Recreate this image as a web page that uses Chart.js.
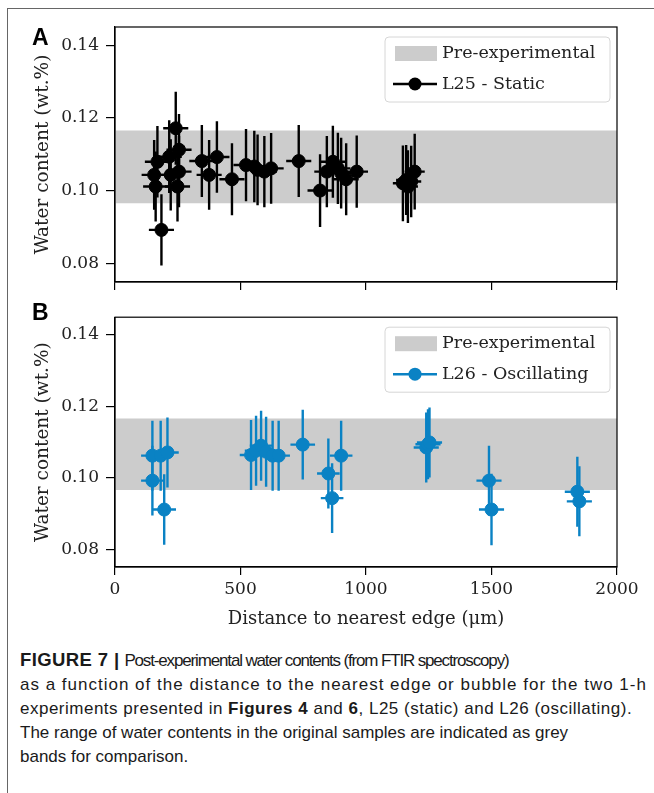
<!DOCTYPE html>
<html>
<head>
<meta charset="utf-8">
<script src="https://cdn.jsdelivr.net/npm/chart.js@4.4.1/dist/chart.umd.min.js"></script>
<style>
  body { margin: 0; background: #fff; width: 654px; height: 793px; overflow: hidden; position: relative; }
  #frame { position: absolute; left: 7px; top: 8px; width: 700px; height: 800px; border-left: 1px solid #666; border-top: 1px solid #666; }
  canvas { position: absolute; left: 0; }
  #chartA { top: 0; }
  #chartB { top: 300px; }
  .tag { position: absolute; left: 32px; font: bold 23px/23px "Liberation Sans", Arial, sans-serif; color: #000; }
  #caption { position: absolute; left: 20px; top: 648px; font: 17px/24px "Liberation Sans", Arial, sans-serif; color: #1a1a1a; white-space: nowrap; }
  #caption .fig { font-size: 18.5px; letter-spacing: 0.4px; }
  #caption .l1 { letter-spacing: -1.15px; }
  #caption .l2 { letter-spacing: 1px; }
  #caption .l3 { letter-spacing: 0.5px; }
</style>
</head>
<body>
<div id="frame"></div>
<canvas id="chartA" width="654" height="300"></canvas>
<canvas id="chartB" width="654" height="335"></canvas>
<div class="tag" style="top:26px">A</div>
<div class="tag" style="top:301px">B</div>
<div id="caption"><b class="fig">FIGURE 7 |</b> <span class="l1">Post-experimental water contents (from FTIR spectroscopy)</span><br><span class="l2">as a function of the distance to the nearest edge or bubble for the two 1-h</span><br><span class="l3">experiments presented in <b>Figures 4</b> and <b>6</b>, L25 (static) and L26 (oscillating).</span><br>The range of water contents in the original samples are indicated as grey<br>bands for comparison.</div>
<script>
// axis ticks
const xTicks = [0, 500, 1000, 1500, 2000]
const yTicks = [0.08, 0.10, 0.12, 0.14]

// pre-experimental range (grey band)
const bandLow = 0.0966
const bandHigh = 0.1166

// L25 - static
const staticX = [169, 156, 162, 185, 216, 222, 242, 255, 255, 249, 346, 406, 375, 466, 522, 555,
  568, 595, 622, 732, 817, 844, 868, 888, 901, 921, 963, 1147, 1160, 1167, 1180, 1194]
const staticY = [0.1080, 0.1044, 0.1012, 0.0893, 0.1094, 0.1044, 0.1172, 0.1113, 0.1053, 0.1012,
  0.1082, 0.1093, 0.1044, 0.1032, 0.1071, 0.1067, 0.1058, 0.1053, 0.1062, 0.1082, 0.1001, 0.1053,
  0.1080, 0.1062, 0.1049, 0.1032, 0.1053, 0.1021, 0.1030, 0.1012, 0.1026, 0.1053]
const staticXErr = [50, 50, 50, 50, 50, 50, 50, 50, 50, 50, 50, 50, 50, 50, 50, 50,
  50, 50, 50, 50, 50, 50, 50, 50, 50, 50, 45, 40, 40, 40, 40, 40]
const staticYErr = [0.0098, 0.0096, 0.0096, 0.0098, 0.0100, 0.0098, 0.0100, 0.0098, 0.0098, 0.0096,
  0.0099, 0.0098, 0.0096, 0.0099, 0.0099, 0.0098, 0.0097, 0.0098, 0.0097, 0.0099, 0.0100, 0.0098,
  0.0099, 0.0098, 0.0097, 0.0099, 0.0099, 0.0104, 0.0096, 0.0100, 0.0098, 0.0104]

// L26 - oscillating
const oscX = [149, 182, 209, 149, 196, 542, 562, 582, 602, 628, 652, 748, 850, 865, 901,
  1240, 1247, 1253, 1490, 1500, 1842, 1850]
const oscY = [0.1062, 0.1062, 0.1071, 0.0992, 0.0911, 0.1064, 0.1076, 0.1090, 0.1073, 0.1062, 0.1062,
  0.1093, 0.1012, 0.0943, 0.1062, 0.1085, 0.1094, 0.1099, 0.0992, 0.0911, 0.0961, 0.0934]
const oscXErr = [45, 45, 45, 45, 47, 45, 45, 45, 45, 45, 45, 49, 45, 45, 45,
  50, 50, 50, 50, 50, 50, 50]
const oscYErr = [0.0098, 0.0098, 0.0098, 0.0098, 0.0099, 0.0098, 0.0098, 0.0098, 0.0098, 0.0098, 0.0098,
  0.0098, 0.0098, 0.0098, 0.0098, 0.0098, 0.0098, 0.0098, 0.0098, 0.0100, 0.0098, 0.0098]

const serif = 'DejaVu Serif'
const bandColor = '#cccccc'

const errorBars = {
  id: 'errorBars',
  afterDatasetDraw(chart, args) {
    if (args.index !== 0) return
    const ds = chart.data.datasets[1]
    const { x, y } = chart.scales
    const ctx = chart.ctx
    ctx.save()
    ctx.strokeStyle = ds.backgroundColor
    ctx.lineWidth = 2.4
    ds.data.forEach((p) => {
      const px = x.getPixelForValue(p.x)
      const py = y.getPixelForValue(p.y)
      ctx.beginPath()
      ctx.moveTo(x.getPixelForValue(p.x - p.xErr), py)
      ctx.lineTo(x.getPixelForValue(p.x + p.xErr), py)
      ctx.moveTo(px, y.getPixelForValue(p.y - p.yErr))
      ctx.lineTo(px, y.getPixelForValue(p.y + p.yErr))
      ctx.stroke()
    })
    ctx.restore()
  },
}

const frameAndLegend = {
  id: 'frameAndLegend',
  afterDatasetsDraw(chart) {
    const { ctx, chartArea: a } = chart
    ctx.save()
    ctx.strokeStyle = '#000'
    ctx.lineWidth = 1.2
    ctx.strokeRect(a.left, a.top, a.right - a.left, a.bottom - a.top)

    // legend box, top right inside the axes
    const w = 225, h = 65
    const bx = a.right - 7 - w, by = a.top + 10
    ctx.beginPath()
    ctx.roundRect(bx, by, w, h, 4)
    ctx.fillStyle = 'rgba(255,255,255,0.85)'
    ctx.fill()
    ctx.strokeStyle = '#d6d6d6'
    ctx.lineWidth = 1
    ctx.stroke()

    const band = chart.data.datasets[0]
    const series = chart.data.datasets[1]
    ctx.fillStyle = band.backgroundColor
    ctx.fillRect(bx + 10, by + 9, 42, 15)
    ctx.strokeStyle = series.backgroundColor
    ctx.lineWidth = 2.4
    ctx.beginPath()
    ctx.moveTo(bx + 8, by + 47)
    ctx.lineTo(bx + 52, by + 47)
    ctx.stroke()
    ctx.beginPath()
    ctx.arc(bx + 30, by + 47, 6.5, 0, Math.PI * 2)
    ctx.fillStyle = series.backgroundColor
    ctx.fill()

    ctx.fillStyle = '#222'
    ctx.font = '17.5px "' + serif + '"'
    ctx.textBaseline = 'middle'
    ctx.fillText(band.label, bx + 57, by + 16)
    ctx.fillText(series.label, bx + 57, by + 47)
    ctx.restore()
  },
}

function makePanel(id, label, color, xs, ys, xErr, yErr, showX) {
  const points = xs.map((x, i) => ({ x: x, y: ys[i], xErr: xErr[i], yErr: yErr[i] }))
  return new Chart(document.getElementById(id), {
    type: 'scatter',
    data: {
      datasets: [
        {
          type: 'line',
          label: 'Pre-experimental',
          data: [{ x: xTicks[0], y: bandHigh }, { x: xTicks[xTicks.length - 1], y: bandHigh }],
          fill: { value: bandLow },
          backgroundColor: bandColor,
          borderWidth: 0,
          pointRadius: 0,
          order: 2,
        },
        {
          label: label,
          data: points,
          backgroundColor: color,
          borderColor: color,
          pointRadius: 6.5,
          pointHoverRadius: 6.5,
          order: 1,
        },
      ],
    },
    options: {
      responsive: false,
      animation: false,
      events: [],
      layout: { padding: { top: showX ? 12 : 27, right: 37, left: 0, bottom: 0 } },
      plugins: { legend: { display: false }, tooltip: { enabled: false } },
      scales: {
        x: {
          type: 'linear',
          min: 0,
          max: 2000,
          afterBuildTicks: (axis) => { axis.ticks = xTicks.map((v) => ({ value: v })) },
          afterFit: (axis) => { axis.height = showX ? 68 : 18 },
          grid: { drawOnChartArea: false, tickLength: 8, color: '#000', lineWidth: 1.2 },
          border: { color: '#000', width: 1.2 },
          ticks: {
            display: showX,
            padding: 4,
            maxRotation: 0,
            color: '#222',
            font: { family: serif, size: 17 },
            callback: (v) => String(v),
          },
          title: {
            display: showX,
            text: 'Distance to nearest edge (μm)',
            color: '#222',
            font: { family: serif, size: 18 },
            padding: { top: 0, bottom: 5 },
          },
        },
        y: {
          min: 0.075,
          max: 0.145,
          afterBuildTicks: (axis) => { axis.ticks = yTicks.map((v) => ({ value: v })) },
          afterFit: (axis) => { axis.width = 115 },
          grid: { drawOnChartArea: false, tickLength: 9, color: '#000', lineWidth: 1.2 },
          border: { color: '#000', width: 1.2 },
          ticks: {
            padding: 7,
            color: '#222',
            font: { family: serif, size: 17 },
            callback: (v) => v.toFixed(2),
          },
          title: {
            display: true,
            text: 'Water content (wt.%)',
            color: '#222',
            font: { family: serif, size: 18.5 },
            padding: { top: 32, bottom: 0 },
          },
        },
      },
    },
    plugins: [errorBars, frameAndLegend],
  })
}

makePanel('chartA', 'L25 - Static', '#000000', staticX, staticY, staticXErr, staticYErr, false)
makePanel('chartB', 'L26 - Oscillating', '#0a82c4', oscX, oscY, oscXErr, oscYErr, true)
</script>
</body>
</html>
